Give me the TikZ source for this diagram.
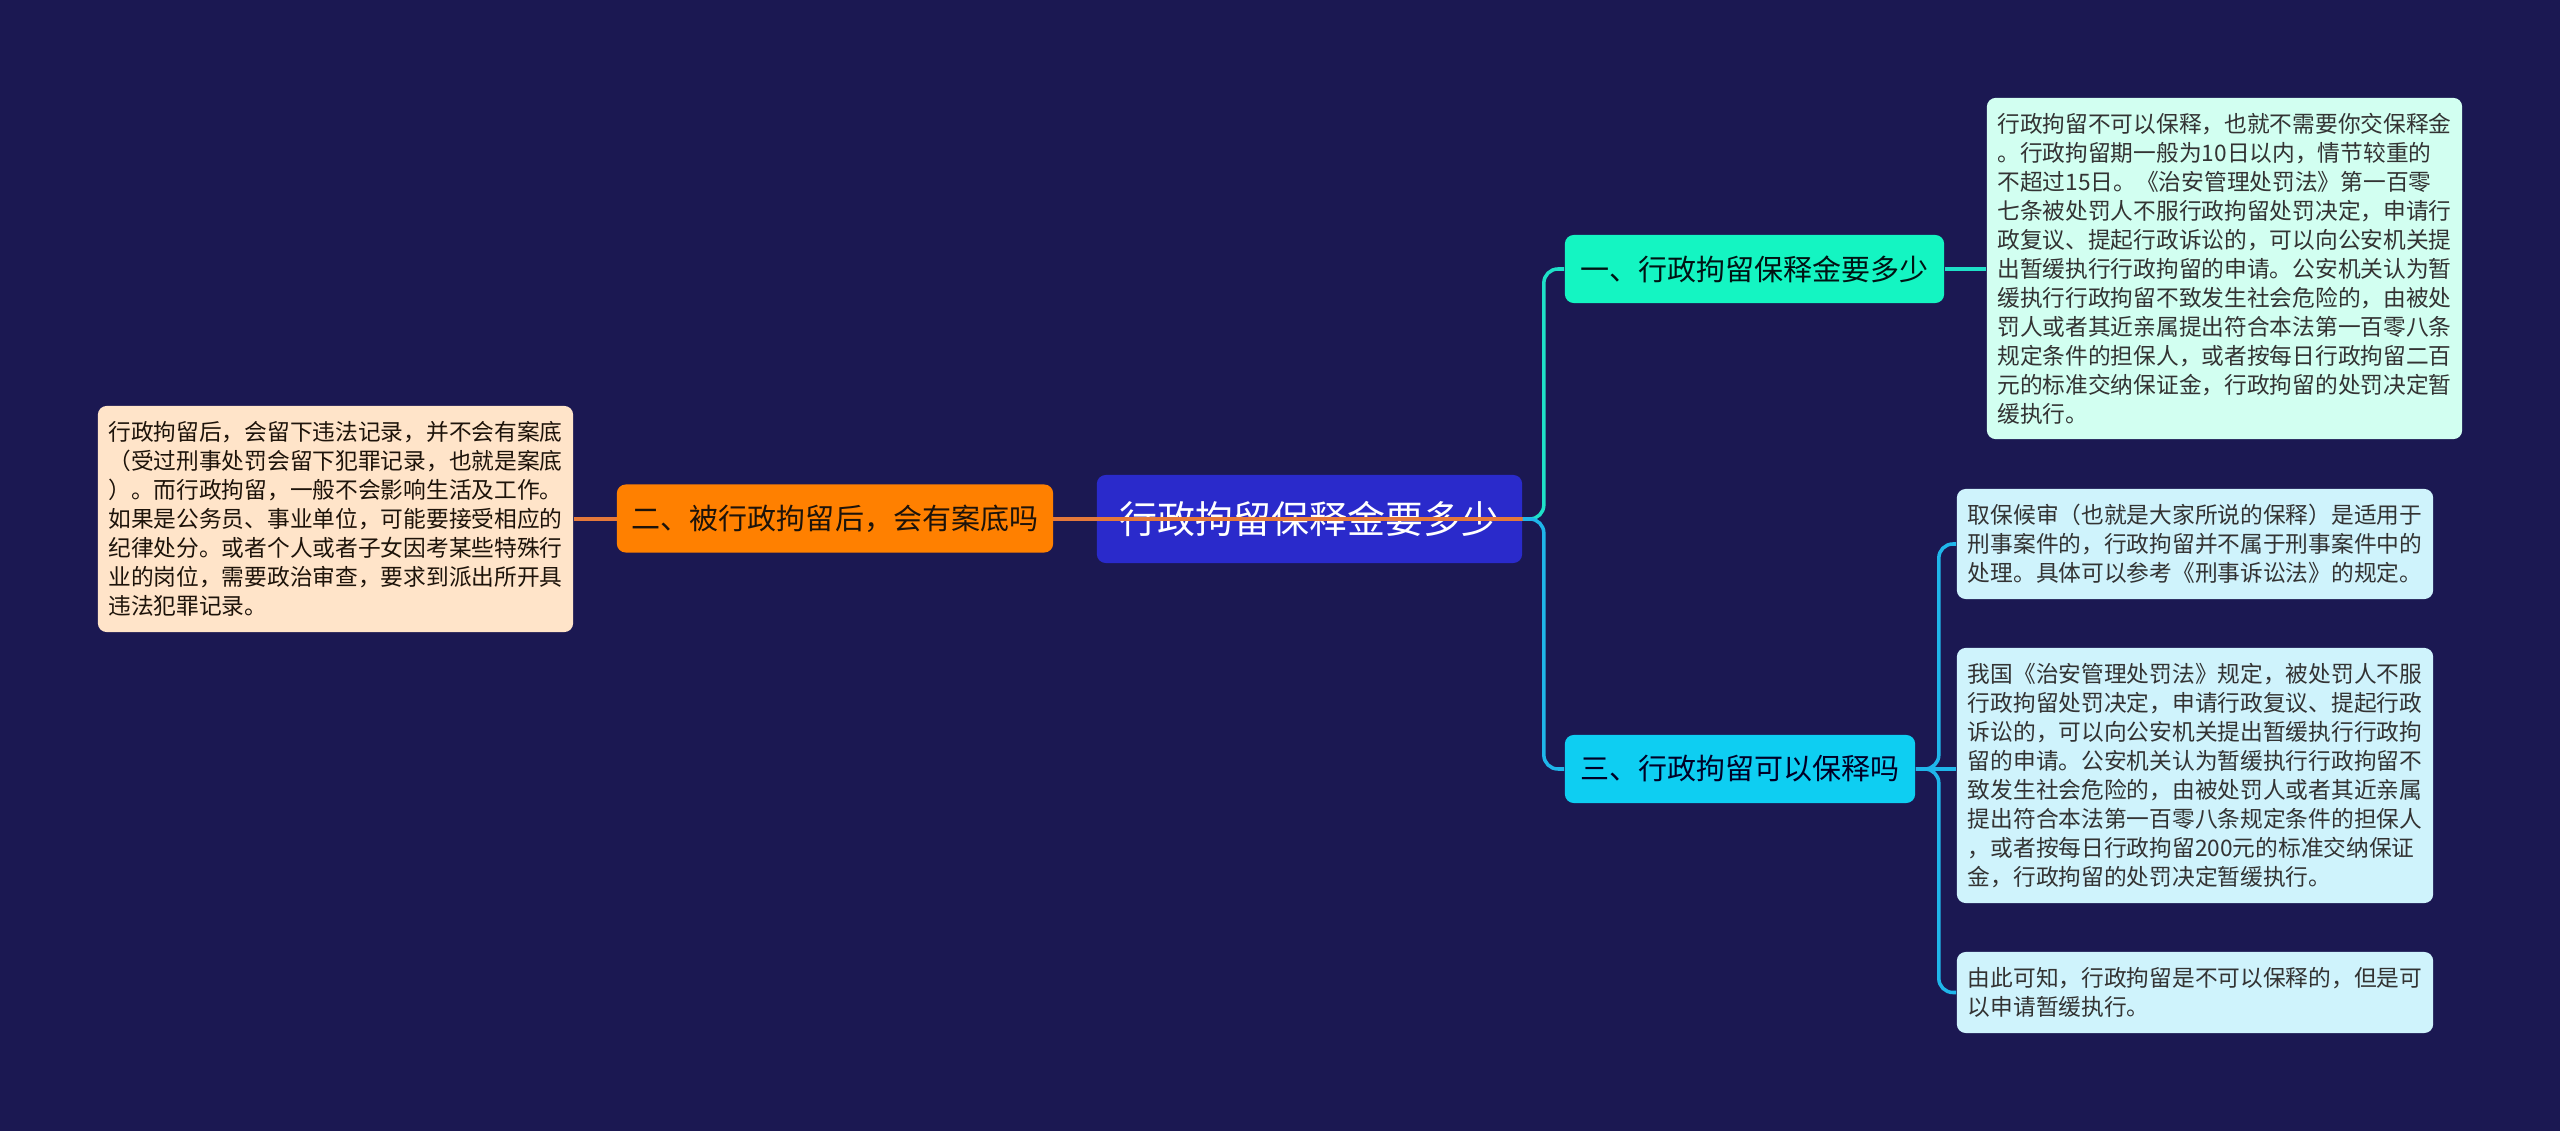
\documentclass[tikz,border=0pt]{standalone}
\usepackage{fontspec}
\setmainfont{Noto Sans CJK SC}
\usepackage{tikz}
\definecolor{mapbg}{HTML}{1B1852}
\definecolor{rootfill}{HTML}{2A2ACB}
\definecolor{orangefill}{HTML}{FF8000}
\definecolor{peachfill}{HTML}{FFE4C9}
\definecolor{aquafill}{HTML}{14F5C2}
\definecolor{mintfill}{HTML}{D2FFF1}
\definecolor{cyanfill}{HTML}{0ECEF2}
\definecolor{icefill}{HTML}{CFF3FC}
\definecolor{aqualine}{HTML}{1EE0C8}
\definecolor{cyanline}{HTML}{1FB6EA}
\definecolor{orangeline}{HTML}{E5793A}

\begin{document}
\begin{tikzpicture}[
  x=0.01cm, y=-0.01cm,
  rootbox/.style={fill=rootfill, rounded corners=2.5pt, minimum width=4.25cm, minimum height=0.88cm, inner sep=0pt, text=white, font=\fontsize{10.8pt}{13pt}\selectfont},
  topic/.style={rounded corners=2.5pt, minimum height=0.68cm, inner sep=0pt, font=\fontsize{8.25pt}{10pt}\selectfont},
  leaf/.style={rounded corners=2.5pt, minimum width=4.75cm, inner sep=0pt, align=left, text=black!80, font=\fontsize{6.46pt}{8.25pt}\selectfont},
  link/.style={line width=1pt, rounded corners=4pt},
]
\fill[mapbg] (0,0) rectangle (2560,1131);
\useasboundingbox (0,0) rectangle (2560,1131);

% ── Centre ──
\node[rootbox] (root) at (1309.5,519) {行政拘留保释金要多少};

% ── Left side ──
\node[leaf, fill=peachfill, minimum height=2.26cm, text=black!85!brown] (past) at (335.5,519)
  {行政拘留后，会留下违法记录，并不会有案底\\（受过刑事处罚会留下犯罪记录，也就是案底\\）。而行政拘留，一般不会影响生活及工作。\\如果是公务员、事业单位，可能要接受相应的\\纪律处分。或者个人或者子女因考某些特殊行\\业的岗位，需要政治审查，要求到派出所开具\\违法犯罪记录。};

% orange line runs under the topic box and over the root
\draw[link, orangeline] (past.east) -- (root.east);

\node[topic, fill=orangefill, minimum width=4.36cm, text=black!85!brown] (record) at (835,518.5)
  {二、被行政拘留后，会有案底吗};

% ── Right side topics ──
\node[topic, fill=aquafill, minimum width=3.79cm, text=black!85!teal] (amount) at (1754.5,269)
  {一、行政拘留保释金要多少};
\node[topic, fill=cyanfill, minimum width=3.50cm, text=black!85!blue] (bail) at (1740,769)
  {三、行政拘留可以保释吗};

% ── Right side leaves ──
\node[leaf, fill=mintfill, minimum height=3.41cm] (noBail) at (2224.5,268.5)
  {行政拘留不可以保释，也就不需要你交保释金\\。行政拘留期一般为10日以内，情节较重的\\不超过15日。《治安管理处罚法》第一百零\\七条被处罚人不服行政拘留处罚决定，申请行\\政复议、提起行政诉讼的，可以向公安机关提\\出暂缓执行行政拘留的申请。公安机关认为暂\\缓执行行政拘留不致发生社会危险的，由被处\\罚人或者其近亲属提出符合本法第一百零八条\\规定条件的担保人，或者按每日行政拘留二百\\元的标准交纳保证金，行政拘留的处罚决定暂\\缓执行。};
\node[leaf, fill=icefill, minimum width=4.76cm, minimum height=1.10cm] (criminal) at (2195,544)
  {取保候审（也就是大家所说的保释）是适用于\\刑事案件的，行政拘留并不属于刑事案件中的\\处理。具体可以参考《刑事诉讼法》的规定。};
\node[leaf, fill=icefill, minimum width=4.76cm, minimum height=2.55cm] (suspend) at (2195,775.5)
  {我国《治安管理处罚法》规定，被处罚人不服\\行政拘留处罚决定，申请行政复议、提起行政\\诉讼的，可以向公安机关提出暂缓执行行政拘\\留的申请。公安机关认为暂缓执行行政拘留不\\致发生社会危险的，由被处罚人或者其近亲属\\提出符合本法第一百零八条规定条件的担保人\\，或者按每日行政拘留200元的标准交纳保证\\金，行政拘留的处罚决定暂缓执行。};
\node[leaf, fill=icefill, minimum width=4.76cm, minimum height=0.81cm] (summary) at (2195,992.5)
  {由此可知，行政拘留是不可以保释的，但是可\\以申请暂缓执行。};

% ── Connectors ──
\draw[link, aqualine] (root.east) -- ++(21,0) |- (amount.west);
\draw[link, cyanline] (root.east) -- ++(21,0) |- (bail.west);
\draw[link, aqualine] (amount.east) -- (amount.east -| noBail.west);

\draw[link, cyanline] (bail.east) -- ++(23,0) |- (criminal.west);
\draw[link, cyanline] (bail.east) -- (bail.east -| suspend.west);
\draw[link, cyanline] (bail.east) -- ++(23,0) |- (summary.west);

\end{tikzpicture}
\end{document}
